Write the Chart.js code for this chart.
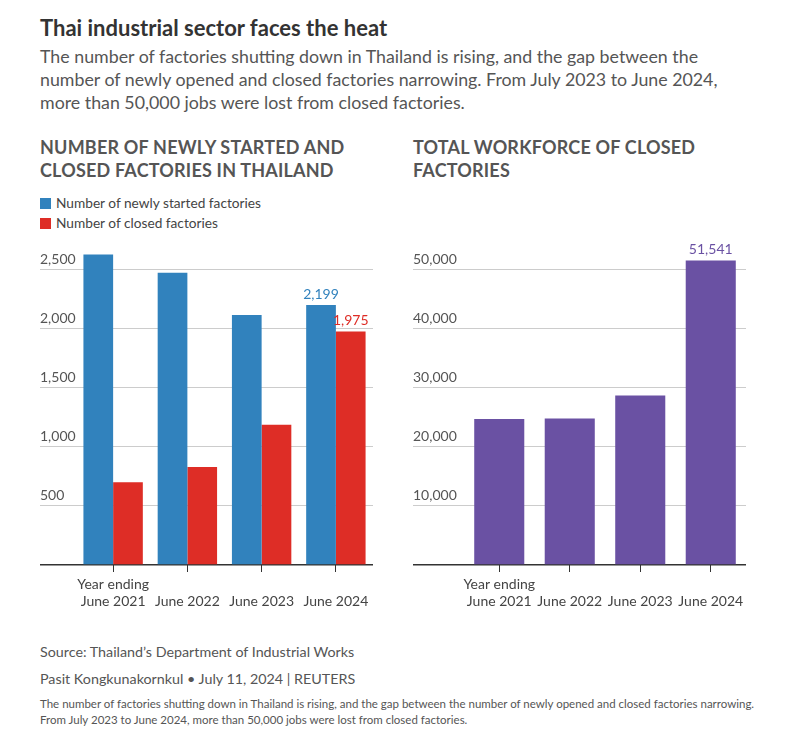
<!DOCTYPE html>
<html>
<head>
<meta charset="utf-8">
<script src="https://cdn.jsdelivr.net/npm/chart.js@4"></script>
<style>
  body { margin: 0; background: #fff; font-family: Lato, "Open Sans", sans-serif; }
  #page { position: relative; width: 797px; height: 736px; overflow: hidden; }
  .abs { position: absolute; white-space: nowrap; }
  #title { left: 40px; top: 14px; font-size: 22px; font-weight: 700; color: #333; }
  #sub { left: 40px; top: 45px; font-size: 17.8px; line-height: 23px; color: #555; }
  .ctitle { font-size: 18px; font-weight: 700; color: #555; line-height: 23px; letter-spacing: 0.2px; }
  .leg { left: 40px; font-size: 13.7px; color: #444; }
  .leg span { display: inline-block; width: 11px; height: 11px; margin-right: 5px; vertical-align: -1px; }
  #src { left: 40px; top: 643px; font-size: 14.3px; color: #555; }
  #by { left: 40px; top: 670px; font-size: 14.3px; color: #555; }
  #note { left: 40px; top: 696px; font-size: 11.5px; line-height: 16px; color: #555; }
  canvas { position: absolute; }
</style>
</head>
<body>
<div id="page">
  <div class="abs" id="title">Thai industrial sector faces the heat</div>
  <div class="abs" id="sub">The number of factories shutting down in Thailand is rising, and the gap between the<br>number of newly opened and closed factories narrowing. From July 2023 to June 2024,<br>more than 50,000 jobs were lost from closed factories.</div>

  <div class="abs ctitle" style="left:40px; top:136px;">NUMBER OF NEWLY STARTED AND<br>CLOSED FACTORIES IN THAILAND</div>
  <div class="abs ctitle" style="left:413px; top:136px;">TOTAL WORKFORCE OF CLOSED<br>FACTORIES</div>

  <div class="abs leg" style="top:194px;"><span style="background:#3182bd"></span>Number of newly started factories</div>
  <div class="abs leg" style="top:214px;"><span style="background:#de2d26"></span>Number of closed factories</div>

  <canvas id="left" width="340" height="400" style="left:40px; top:220px; width:340px; height:400px;"></canvas>
  <canvas id="right" width="340" height="400" style="left:413px; top:220px; width:340px; height:400px;"></canvas>

  <div class="abs" id="src">Source: Thailand’s Department of Industrial Works</div>
  <div class="abs" id="by">Pasit Kongkunakornkul • July 11, 2024 | REUTERS</div>
  <div class="abs" id="note">The number of factories shutting down in Thailand is rising, and the gap between the number of newly opened and closed factories narrowing.<br>From July 2023 to June 2024, more than 50,000 jobs were lost from closed factories.</div>
</div>

<script>
// data
const years = [['Year ending', 'June 2021'], ['', 'June 2022'], ['', 'June 2023'], ['', 'June 2024']];
const newFactories = [2627, 2472, 2116, 2199];
const closedFactories = [701, 830, 1186, 1975];
const closedWorkforce = [24700, 24800, 28700, 51541];
const leftTicks = [0, 500, 1000, 1500, 2000, 2500];
const rightTicks = [0, 10000, 20000, 30000, 40000, 50000];

const BLUE = '#3182bd', RED = '#de2d26', PURPLE = '#6a51a3';
const FONT = 'Lato, "Open Sans", sans-serif';

// draws value labels above the bars listed in dataset.labelAt
const valueLabels = {
  id: 'valueLabels',
  afterDatasetsDraw(chart) {
    const ctx = chart.ctx;
    ctx.save();
    ctx.font = '14px ' + FONT;
    ctx.textAlign = 'center';
    ctx.textBaseline = 'bottom';
    chart.data.datasets.forEach((ds, di) => {
      (ds.labelAt || []).forEach(i => {
        const bar = chart.getDatasetMeta(di).data[i];
        ctx.fillStyle = ds.backgroundColor;
        ctx.fillText(ds.data[i].toLocaleString('en-US'), bar.x, bar.y - 4);
      });
    });
    ctx.restore();
  }
};

function makeChart(id, datasets, ticks, max, yWidth, catPct) {
  return new Chart(document.getElementById(id), {
    type: 'bar',
    data: { labels: years, datasets: datasets },
    plugins: [valueLabels],
    options: {
      responsive: false,
      animation: false,
      layout: { padding: { top: 20, right: 7, left: 0, bottom: 0 } },
      plugins: { legend: { display: false }, tooltip: { enabled: false } },
      datasets: { bar: { categoryPercentage: catPct, barPercentage: 1 } },
      scales: {
        x: {
          grid: { offset: false, drawOnChartArea: false, drawTicks: true, tickLength: 7, color: '#333' },
          border: { display: false },
          ticks: { color: '#444', font: { family: FONT, size: 14 }, padding: 4, maxRotation: 0, autoSkip: false },
          afterFit(s) { s.height = 55; }
        },
        y: {
          min: 0, max: max,
          afterBuildTicks(s) { s.ticks = ticks.map(v => ({ value: v })); },
          afterFit(s) { s.width = yWidth; },
          border: { display: false },
          grid: {
            color: c => (c.tick && c.tick.value === 0) ? '#333' : '#ccc',
            lineWidth: c => (c.tick && c.tick.value === 0) ? 1.5 : 1,
            tickLength: yWidth, drawTicks: true
          },
          ticks: {
            crossAlign: 'far', labelOffset: -10, padding: 0,
            color: '#555', font: { family: FONT, size: 14 },
            callback: v => v === 0 ? '' : v.toLocaleString('en-US')
          }
        }
      }
    }
  });
}

makeChart('left', [
  { label: 'Number of newly started factories', data: newFactories, backgroundColor: BLUE, labelAt: [3] },
  { label: 'Number of closed factories', data: closedFactories, backgroundColor: RED, labelAt: [3] }
], leftTicks, 2750, 36, 0.8);

makeChart('right', [
  { label: 'Total workforce of closed factories', data: closedWorkforce, backgroundColor: PURPLE, labelAt: [3] }
], rightTicks, 55000, 51, 0.71);
</script>
</body>
</html>
